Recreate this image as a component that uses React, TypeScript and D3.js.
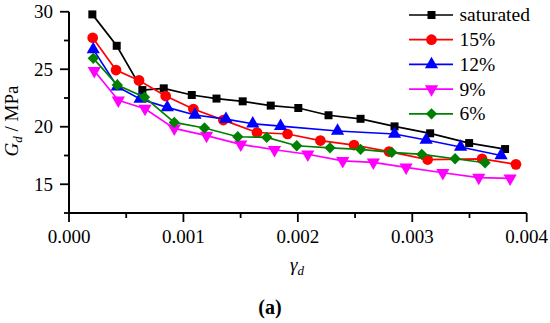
import React from "react";
import * as d3 from "d3";

const seriesNames = ["saturated", "15%", "12%", "9%", "6%"];
const seriesColors = ["#000000", "#ff0000", "#0000ff", "#ff00ff", "#008000"];

const satX = [0.000204, 0.000417, 0.000641, 0.000828, 0.001073, 0.001289, 0.001518, 0.001763, 0.002004, 0.002268, 0.002548, 0.002845, 0.003156, 0.003497, 0.003811];
const satY = [29.77, 27.04, 23.19, 23.34, 22.76, 22.45, 22.21, 21.84, 21.63, 21.0, 20.69, 20.03, 19.43, 18.58, 18.06];

const w15X = [0.000207, 0.000411, 0.000612, 0.000845, 0.001087, 0.001349, 0.001643, 0.00191, 0.002197, 0.002491, 0.002797, 0.003134, 0.00361, 0.003906];
const w15Y = [27.74, 24.93, 24.03, 22.67, 21.54, 20.58, 19.5, 19.37, 18.8, 18.41, 17.84, 17.15, 17.21, 16.73];

const w12X = [0.000212, 0.000422, 0.000621, 0.000859, 0.001101, 0.001372, 0.001606, 0.001849, 0.002347, 0.002845, 0.003121, 0.003422, 0.003776];
const w12Y = [26.73, 23.48, 22.41, 21.69, 21.02, 20.67, 20.26, 20.06, 19.63, 19.37, 18.85, 18.24, 17.5];

const w9X = [0.000221, 0.000431, 0.000664, 0.00092, 0.001202, 0.001501, 0.001796, 0.002087, 0.002392, 0.00266, 0.002946, 0.003267, 0.003581, 0.003855];
const w9Y = [24.87, 22.3, 21.57, 19.86, 19.23, 18.47, 18.0, 17.61, 17.03, 16.9, 16.47, 16.0, 15.57, 15.51];

const w6X = [0.000212, 0.000422, 0.00066, 0.00092, 0.001184, 0.001475, 0.001728, 0.00199, 0.002281, 0.002548, 0.002821, 0.003083, 0.003374, 0.003636];
const w6Y = [25.95, 23.63, 22.57, 20.38, 19.89, 19.13, 19.08, 18.35, 18.17, 18.04, 17.77, 17.6, 17.22, 16.87];

const xMajorTicks = [0, 0.001, 0.002, 0.003, 0.004];
const xMinorTicks = [0.0005, 0.0015, 0.0025, 0.0035];
const yMajorTicks = [15, 20, 25, 30];
const yMinorTicks = [12.5, 17.5, 22.5, 27.5];

const allX = [satX, w15X, w12X, w9X, w6X];
const allY = [satY, w15Y, w12Y, w9Y, w6Y];

const FONT = "Liberation Serif, serif";
const tStyle = { fontFamily: FONT };

function markerPath(i: number): { d: string; rot: number } {
  if (i === 0) return { d: d3.symbol(d3.symbolSquare, 64)()!, rot: 0 };
  if (i === 1) return { d: d3.symbol(d3.symbolCircle, 90)()!, rot: 0 };
  if (i === 2) return { d: d3.symbol(d3.symbolTriangle, 76)()!, rot: 0 };
  if (i === 3) return { d: d3.symbol(d3.symbolTriangle, 76)()!, rot: 180 };
  return { d: d3.symbol(d3.symbolSquare, 64)()!, rot: 45 };
}

export default function App() {
  const x = d3.scaleLinear().domain([0, 0.004]).range([69, 526.7]);
  const y = d3.scaleLinear().domain([12.5, 30]).range([213, 11.75]);
  const line = d3.line<[number, number]>().x((d) => x(d[0])).y((d) => y(d[1]));

  const legendY = [15, 39.7, 64.4, 89.1, 113.8];

  return (
    <svg
      width={550}
      height={323}
      style={{ position: "absolute", left: 0, top: 0, background: "#fff", fontFamily: FONT }}
    >
      <rect x={0} y={0} width={550} height={323} fill="#fff" />
      {/* axes */}
      <line x1={x(0)} x2={x(0)} y1={y(30)} y2={y(12.5)} stroke="#000" strokeWidth={2} />
      <line x1={x(0) - 1} x2={x(0.004)} y1={y(12.5)} y2={y(12.5)} stroke="#000" strokeWidth={2} />
      {yMajorTicks.map((t) => (
        <g key={"ym" + t}>
          <line x1={x(0) - 9} x2={x(0)} y1={y(t)} y2={y(t)} stroke="#000" strokeWidth={1.8} />
          <text x={53} y={y(t)} dy="0.35em" textAnchor="end" fontSize={19} style={tStyle}>
            {t}
          </text>
        </g>
      ))}
      {yMinorTicks.map((t) => (
        <line key={"yn" + t} x1={x(0) - 5} x2={x(0)} y1={y(t)} y2={y(t)} stroke="#000" strokeWidth={1.8} />
      ))}
      {xMajorTicks.map((t) => (
        <g key={"xm" + t}>
          <line x1={x(t)} x2={x(t)} y1={y(12.5)} y2={y(12.5) + 9} stroke="#000" strokeWidth={1.8} />
          <text x={x(t)} y={243} textAnchor="middle" fontSize={19} style={tStyle}>
            {d3.format(".3f")(t)}
          </text>
        </g>
      ))}
      {xMinorTicks.map((t) => (
        <line key={"xn" + t} x1={x(t)} x2={x(t)} y1={y(12.5)} y2={y(12.5) + 5} stroke="#000" strokeWidth={1.8} />
      ))}

      {/* series */}
      {seriesNames.map((name, i) => {
        const pts: [number, number][] = allX[i].map((v, j) => [v, allY[i][j]]);
        const m = markerPath(i);
        return (
          <g key={name}>
            <path d={line(pts)!} fill="none" stroke={seriesColors[i]} strokeWidth={1.7} />
            {pts.map((p, j) => (
              <path
                key={j}
                d={m.d}
                fill={seriesColors[i]}
                transform={`translate(${x(p[0])},${y(p[1])}) rotate(${m.rot})`}
              />
            ))}
          </g>
        );
      })}

      {/* legend */}
      {seriesNames.map((name, i) => {
        const m = markerPath(i);
        return (
          <g key={"lg" + name}>
            <line x1={409} x2={453} y1={legendY[i]} y2={legendY[i]} stroke={seriesColors[i]} strokeWidth={1.7} />
            <path d={m.d} fill={seriesColors[i]} transform={`translate(431.5,${legendY[i]}) rotate(${m.rot})`} />
            <text x={459.5} y={legendY[i]} dy="0.33em" fontSize={19.5} style={tStyle}>
              {name}
            </text>
          </g>
        );
      })}

      {/* axis titles */}
      <text transform="translate(18,121) rotate(-90)" textAnchor="middle" fontSize={19} style={tStyle}>
        <tspan fontStyle="italic">G</tspan>
        <tspan fontStyle="italic" fontSize={13} dy={4}>d</tspan>
        <tspan dy={-4}> / MPa</tspan>
      </text>
      <text x={297} y={271} textAnchor="middle" fontSize={19} style={tStyle}>
        <tspan fontStyle="italic">γ</tspan>
        <tspan fontStyle="italic" fontSize={13} dy={4}>d</tspan>
      </text>
      <text x={270} y={314} textAnchor="middle" fontSize={20} fontWeight="bold" style={tStyle}>
        (a)
      </text>
    </svg>
  );
}
